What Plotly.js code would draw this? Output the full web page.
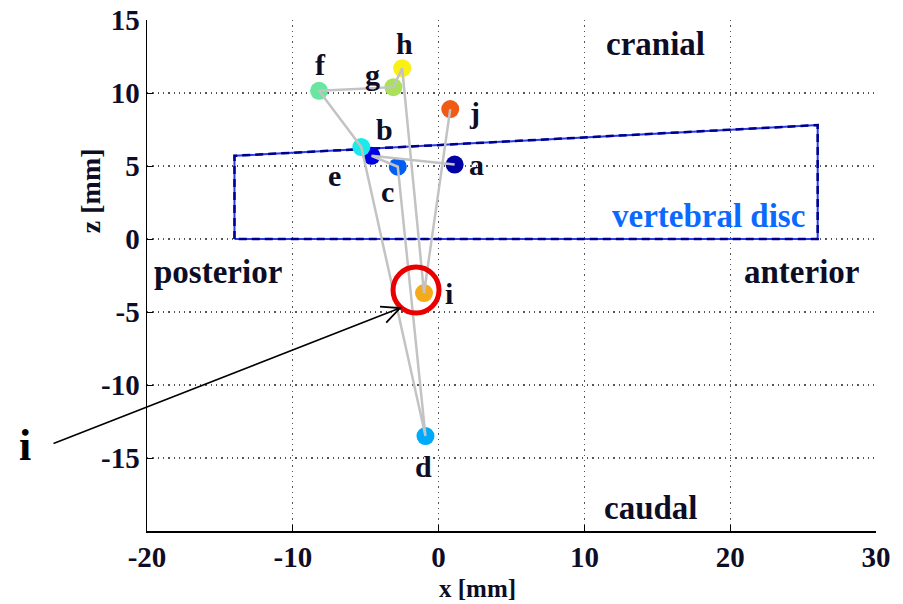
<!DOCTYPE html>
<html>
<head>
<meta charset="utf-8">
<script src="https://cdn.plot.ly/plotly-3.0.1.min.js"></script>
<style>html,body{margin:0;padding:0;background:#fff;}#chart{width:903px;height:604px;}</style>
</head>
<body>
<div id="chart"></div>
<script>
// ---- data ----
const pointIds = ['a','b','c','d','e','f','g','h','i','j'];
const pointX = [1.1, -4.6, -2.8, -0.9, -5.3, -8.2, -3.1, -2.5, -1.0, 0.8];
const pointZ = [5.1, 5.7, 4.95, -13.5, 6.3, 10.15, 10.4, 11.7, -3.7, 8.9];
const pointColors = ['rgb(0,0,165)','rgb(0,0,225)','rgb(0,95,240)','rgb(0,170,250)','rgb(25,235,235)',
                     'rgb(105,230,160)','rgb(170,225,90)','rgb(250,240,20)','rgb(245,170,25)','rgb(240,90,20)'];
const discX = [-14, -14, 26, 26, -14];
const discZ = [0, 5.7, 7.8, 0, 0];
const xTicks = [-20, -10, 0, 10, 20, 30];
const zTicks = [-15, -10, -5, 0, 5, 10, 15];
const xTickText = xTicks.map(String);
const zTickText = zTicks.map(String);
const regionNames = ['cranial', 'caudal', 'posterior', 'anterior'];
const regionX = [14.9, 14.6, -15.1, 24.9];
const regionZ = [13.35, -18.4, -2.25, -2.25];
const discLabel = 'vertebral disc';
const discLabelX = 18.5, discLabelZ = 1.6;
const highlighted = 'i';
const xTitle = 'x [mm]', zTitle = 'z [mm]';

// label pixel offsets (right, down)
const labelDx = [22, 13, -10, -2, -27, 1, -21, 2, 25, 24];
const labelDy = [0, -26, 25, 30, 28, -26, -13, -25, 0, 3];

const serif = 'Liberation Serif, Times New Roman, serif';
const ink = '#0d0d26';
const hi = pointIds.indexOf(highlighted);

const data = [
  {type: 'scatter', mode: 'lines', x: discX, y: discZ,
   line: {color: 'rgb(40,60,235)', width: 2}, hoverinfo: 'skip', showlegend: false},
  {type: 'scatter', mode: 'lines', x: discX, y: discZ,
   line: {color: 'rgb(0,0,140)', width: 2.5, dash: '8px,5px'}, hoverinfo: 'skip', showlegend: false},
  {type: 'scatter', mode: 'markers', x: pointX, y: pointZ, text: pointIds,
   marker: {size: 18, color: pointColors, line: {width: 0}}, showlegend: false},
  {type: 'scatter', mode: 'lines', x: pointX, y: pointZ,
   line: {color: 'rgb(195,195,195)', width: 2.5}, showlegend: false, hoverinfo: 'skip'}
];

const annotations = [];
pointIds.forEach((id, k) => {
  annotations.push({x: pointX[k], y: pointZ[k], text: '<b>' + id + '</b>', showarrow: false,
    xshift: labelDx[k], yshift: -labelDy[k], font: {family: serif, size: 30, color: ink}});
});
regionNames.forEach((t, k) => {
  annotations.push({x: regionX[k], y: regionZ[k], text: '<b>' + t + '</b>', showarrow: false,
    font: {family: serif, size: 33, color: ink}});
});
annotations.push({x: discLabelX, y: discLabelZ, text: '<b>' + discLabel + '</b>', showarrow: false,
  font: {family: serif, size: 33, color: 'rgb(10,105,255)'}});
// axis titles
annotations.push({xref: 'paper', yref: 'paper', x: 0.454, y: -0.1116, xanchor: 'center', yanchor: 'middle',
  borderpad: 0, text: '<b>' + xTitle + '</b>', showarrow: false, font: {family: serif, size: 25, color: ink}});
annotations.push({xref: 'paper', yref: 'paper', x: -0.0782, y: 0.667, xanchor: 'center', yanchor: 'middle',
  text: '<b>' + zTitle + '</b>', textangle: -90, showarrow: false, font: {family: serif, size: 28, color: ink}});
// arrow pointing at highlighted point
annotations.push({x: pointX[hi], y: pointZ[hi], xshift: -24, yshift: -15, text: '', showarrow: true,
  arrowhead: 0, arrowwidth: 1.6, arrowcolor: '#000', ax: -348, ay: 136, standoff: 0});
annotations.push({xref: 'paper', yref: 'paper', x: -0.1784, y: 0.115, text: '<b>' + highlighted + '</b>',
  showarrow: false, font: {family: serif, size: 44, color: '#000'}});

const shapes = [
  {type: 'circle', xref: 'x', yref: 'y', xsizemode: 'pixel', ysizemode: 'pixel',
   xanchor: pointX[hi], yanchor: pointZ[hi], x0: -31, x1: 15, y0: -20, y1: 26,
   line: {color: 'rgb(235,0,0)', width: 5}},
  {type: 'path', xref: 'x', yref: 'y', xsizemode: 'pixel', ysizemode: 'pixel',
   xanchor: pointX[hi], yanchor: pointZ[hi],
   path: 'M-37.8,-29.5 L-24,-15 L-44,-13.7', line: {color: '#000', width: 1.8}}
];

const axisCommon = {
  showline: true, linecolor: '#000', linewidth: 1.5, mirror: false,
  zeroline: false, showgrid: true, gridcolor: '#555', gridwidth: 1.3, griddash: '1.3px,4px',
  ticks: 'inside', ticklen: 6, tickcolor: '#000', tickwidth: 1, tickmode: 'array',
  tickfont: {family: serif, size: 29, color: ink, weight: 'bold'}
};

const layout = {
  width: 903, height: 604,
  margin: {l: 147, r: 27, t: 20, b: 73},
  paper_bgcolor: '#fff', plot_bgcolor: '#fff',
  xaxis: Object.assign({}, axisCommon, {range: [-20, 30], tickvals: xTicks, ticktext: xTickText}),
  yaxis: Object.assign({}, axisCommon, {range: [-20, 15], tickvals: zTicks, ticktext: zTickText}),
  annotations: annotations,
  shapes: shapes,
  showlegend: false
};

Plotly.newPlot('chart', data, layout, {staticPlot: true});
</script>
</body>
</html>
